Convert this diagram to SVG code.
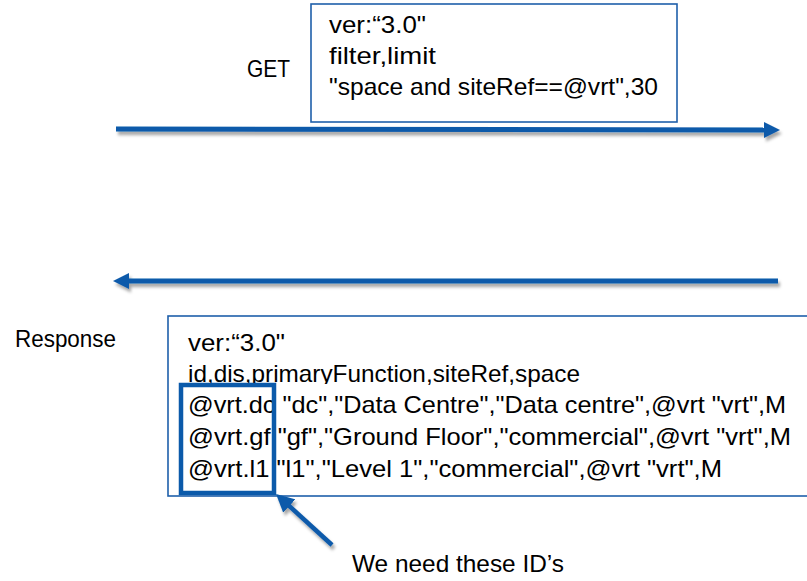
<svg xmlns="http://www.w3.org/2000/svg" width="807" height="581" viewBox="0 0 807 581">
  <defs>
    <style>
      .t { font-family: "Liberation Sans", Arial, sans-serif; font-size: 24px; fill: #000; }
      .box { fill: #fff; stroke: #1F5FAA; stroke-width: 1.6; }
      .arrow { fill: none; stroke: #0B5AAA; stroke-width: 5; }
      .hl { fill: none; stroke: #0B5AAA; stroke-width: 4.5; }
      .ptr { fill: none; stroke: #0B5AAA; stroke-width: 4.5; }
    </style>
    <filter id="shadow" filterUnits="userSpaceOnUse" x="0" y="0" width="807" height="581">
      <feDropShadow dx="2" dy="3.5" stdDeviation="1.8" flood-color="#000" flood-opacity="0.35"/>
    </filter>
    <marker id="head" viewBox="0 0 16 16" markerWidth="16" markerHeight="16" refX="6" refY="8" orient="auto" markerUnits="userSpaceOnUse">
      <path d="M0,0 L16,8 L0,16 z" fill="#0B5AAA"/>
    </marker>
    <marker id="head2" viewBox="0 0 18 18" markerWidth="18" markerHeight="18" refX="8" refY="9" orient="auto" markerUnits="userSpaceOnUse">
      <path d="M0,0 L18,9 L0,18 z" fill="#0B5AAA"/>
    </marker>
  </defs>

  <g id="get-label">
    <text class="t" x="247" y="77" textLength="43" lengthAdjust="spacingAndGlyphs">GET</text>
  </g>

  <g id="request-box">
    <rect class="box" x="311" y="4" width="366" height="118"/>
    <text class="t" x="329" y="33" textLength="97" lengthAdjust="spacingAndGlyphs">ver:“3.0"</text>
    <text class="t" x="329" y="64" textLength="107" lengthAdjust="spacingAndGlyphs">filter,limit</text>
    <text class="t" x="329" y="95" textLength="329" lengthAdjust="spacingAndGlyphs">"space and siteRef==@vrt",30</text>
  </g>

  <g id="response-label">
    <text class="t" x="15" y="347" textLength="101" lengthAdjust="spacingAndGlyphs">Response</text>
  </g>

  <g id="response-box">
    <rect class="box" x="168" y="316" width="660" height="180"/>
    <text class="t" x="188" y="351" textLength="97" lengthAdjust="spacingAndGlyphs">ver:“3.0"</text>
    <text class="t" x="188" y="382" textLength="392" lengthAdjust="spacingAndGlyphs">id,dis,primaryFunction,siteRef,space</text>
    <rect x="170" y="384" width="230" height="9" fill="#fff"/>
    <text class="t" x="188" y="413" textLength="598" lengthAdjust="spacingAndGlyphs">@vrt.dc "dc","Data Centre","Data centre",@vrt "vrt",M</text>
    <text class="t" x="188" y="445" textLength="603" lengthAdjust="spacingAndGlyphs">@vrt.gf "gf","Ground Floor","commercial",@vrt "vrt",M</text>
    <text class="t" x="188" y="477" textLength="534" lengthAdjust="spacingAndGlyphs">@vrt.l1 "l1","Level 1","commercial",@vrt "vrt",M</text>
  </g>

  <g id="id-highlight">
    <rect class="hl" x="181" y="385" width="93" height="108"/>
  </g>

  <g id="note-label">
    <text class="t" x="352" y="572" textLength="212" lengthAdjust="spacingAndGlyphs">We need these ID’s</text>
  </g>

  <g id="connectors">
    <line class="arrow" x1="116" y1="129" x2="770" y2="130" marker-end="url(#head)" filter="url(#shadow)"/>
    <line class="arrow" x1="778" y1="281" x2="123" y2="281" marker-end="url(#head)" filter="url(#shadow)"/>
    <line class="ptr" x1="332" y1="545" x2="283.4" y2="500.7" marker-end="url(#head2)" filter="url(#shadow)"/>
  </g>
</svg>
